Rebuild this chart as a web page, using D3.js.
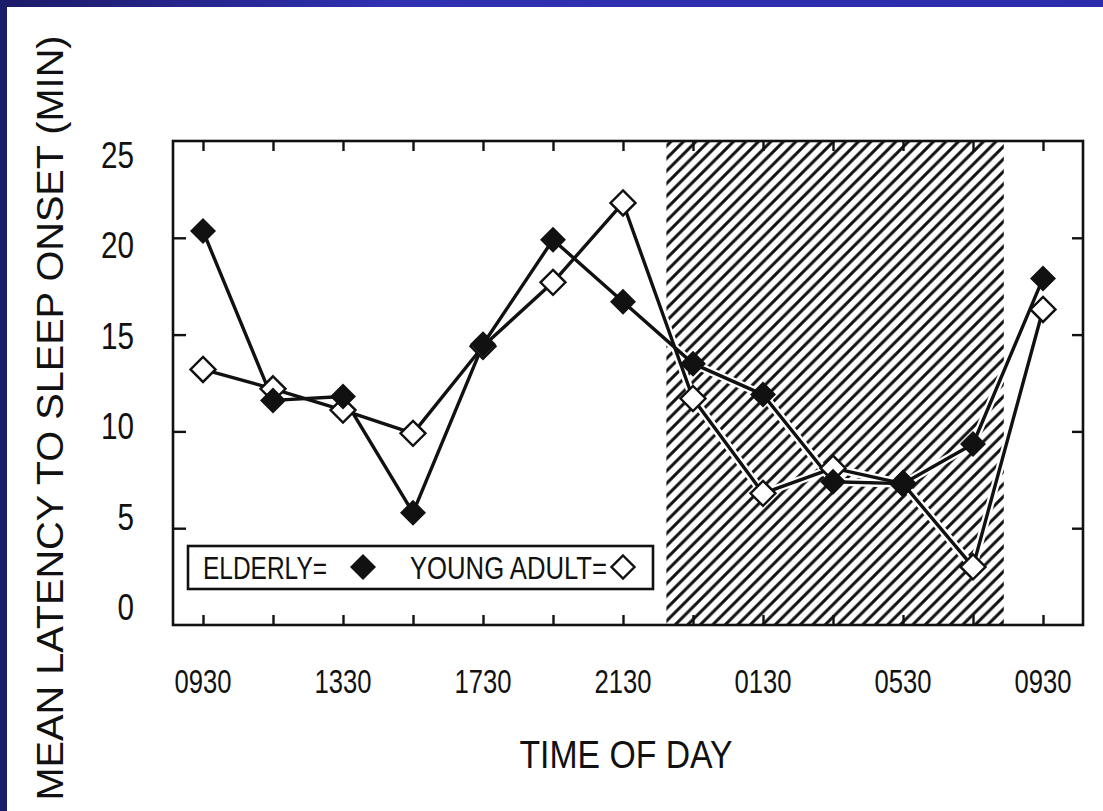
<!DOCTYPE html>
<html><head><meta charset="utf-8">
<script src="https://cdn.jsdelivr.net/npm/d3@7"></script>
<style>
html,body{margin:0;padding:0;background:#fff;}
svg{display:block;}
text{font-family:"Liberation Sans Narrow","Arial Narrow","Liberation Sans",Arial,sans-serif;fill:#111;}
</style></head>
<body>
<svg id="chart" width="1103" height="811"></svg>
<script>
// ---- data ----
const timeLabels = ["0930","1130","1330","1530","1730","1930","2130","2330","0130","0330","0530","0730","0930"];
const shownTickLabels = ["0930","1330","1730","2130","0130","0530","0930"];
const elderly = [20.35, 11.6, 11.8, 5.8, 14.5, 19.9, 16.7, 13.5, 11.9, 7.4, 7.3, 9.35, 17.9];
const youngAdult = [13.2, 12.2, 11.1, 9.9, 14.4, 17.7, 21.8, 11.7, 6.8, 8.1, 7.3, 3.0, 16.3];
const yTicks = [0, 5, 10, 15, 20, 25];
const nightShade = [6.62, 11.44]; // in time-slot index units
const seriesNames = ["ELDERLY=", "YOUNG ADULT="];

// ---- layout ----
const W = 1103, H = 811;
const frame = {left:173, right:1083, top:141, bottom:625};
const svg = d3.select("#chart");

const x = d3.scaleLinear().domain([0, timeLabels.length - 1]).range([203, 1043]);
const y = d3.scaleLinear().domain([0, 25]).range([frame.bottom, frame.top]);
// label positions in the scanned figure are slightly compressed
const yLab = d3.scaleLinear().domain([0, 25]).range([607, 155]);

// background
svg.append("rect").attr("width", W).attr("height", H).attr("fill", "#fff");

// blue slide border
const defs = svg.append("defs");
const grad = defs.append("linearGradient").attr("id","topbar").attr("x1","0").attr("x2","1").attr("y1","0").attr("y2","0");
grad.append("stop").attr("offset","0").attr("stop-color","#1b1b68");
grad.append("stop").attr("offset","0.35").attr("stop-color","#3030b2");
grad.append("stop").attr("offset","1").attr("stop-color","#2b2bab");
svg.append("rect").attr("x",0).attr("y",0).attr("width",W).attr("height",7).attr("fill","url(#topbar)");
svg.append("rect").attr("x",0).attr("y",0).attr("width",7).attr("height",H).attr("fill","#1c1c6c");

// hatch pattern
const P = 12.5;
const pat = defs.append("pattern").attr("id","hatch").attr("patternUnits","userSpaceOnUse")
  .attr("width",P).attr("height",P);
pat.append("path").attr("d",`M-3,3 L3,-3 M0,${P} L${P},0 M${P-3},${P+3} L${P+3},${P-3}`)
  .attr("stroke","#111").attr("stroke-width",3).attr("stroke-linecap","square");

svg.append("rect")
  .attr("x", x(nightShade[0])).attr("y", frame.top)
  .attr("width", x(nightShade[1]) - x(nightShade[0]))
  .attr("height", frame.bottom - frame.top)
  .attr("fill", "url(#hatch)");

// frame
svg.append("rect").attr("x",frame.left).attr("y",frame.top)
  .attr("width",frame.right-frame.left).attr("height",frame.bottom-frame.top)
  .attr("fill","none").attr("stroke","#111").attr("stroke-width",2.6);

// ticks (inward)
const idx = d3.range(timeLabels.length);
const xAxisB = d3.axisBottom(x).tickValues(idx).tickSize(-10).tickFormat("");
const xAxisT = d3.axisTop(x).tickValues(idx).tickSize(-10).tickFormat("");
const yAxisL = d3.axisLeft(y).tickValues([5,10,15,20]).tickSize(-13).tickFormat("");
const yAxisR = d3.axisRight(y).tickValues([5,10,15,20]).tickSize(-11).tickFormat("");
function styleAxis(g){ g.select(".domain").remove(); g.selectAll("line").attr("stroke","#111").attr("stroke-width",2.4); }
svg.append("g").attr("transform",`translate(0,${frame.bottom})`).call(xAxisB).call(styleAxis);
svg.append("g").attr("transform",`translate(0,${frame.top})`).call(xAxisT).call(styleAxis);
svg.append("g").attr("transform",`translate(${frame.left},0)`).call(yAxisL).call(styleAxis);
svg.append("g").attr("transform",`translate(${frame.right},0)`).call(yAxisR).call(styleAxis);

// y tick labels
svg.append("g").selectAll("text").data(yTicks).join("text")
  .attr("x", 134).attr("y", d => yLab(d)).attr("dy","0.36em")
  .attr("text-anchor","end").attr("font-size",36)
  .attr("textLength", d => String(d).length * 16.5).attr("lengthAdjust","spacingAndGlyphs")
  .text(d => d);

// x tick labels
svg.append("g").selectAll("text").data(idx.filter(i => i % 2 === 0)).join("text")
  .attr("x", d => x(d)).attr("y", 693).attr("text-anchor","middle")
  .attr("font-size",33).attr("textLength",57).attr("lengthAdjust","spacingAndGlyphs")
  .text((d,i) => shownTickLabels[i]);

// axis titles
svg.append("text").attr("x",626).attr("y",768).attr("text-anchor","middle")
  .attr("font-size",38).attr("textLength",213).attr("lengthAdjust","spacingAndGlyphs").text("TIME OF DAY");
svg.append("text").attr("transform","translate(63,418) rotate(-90)").attr("text-anchor","middle")
  .attr("font-size",37).attr("textLength",765).attr("lengthAdjust","spacingAndGlyphs")
  .text("MEAN LATENCY TO SLEEP ONSET (MIN)");

// series
const line = d3.line().x((d,i) => x(i)).y(d => y(d));
const diamond = (cx, cy, r) => `M${cx},${cy-r}L${cx+r},${cy}L${cx},${cy+r}L${cx-r},${cy}Z`;

[youngAdult, elderly].forEach(s => {
  svg.append("path").datum(s).attr("d", line).attr("fill","none")
    .attr("stroke","#fff").attr("stroke-width",8).attr("stroke-linejoin","round");
});
[youngAdult, elderly].forEach(s => {
  svg.append("path").datum(s).attr("d", line).attr("fill","none")
    .attr("stroke","#111").attr("stroke-width",3.4).attr("stroke-linejoin","round");
});
svg.append("g").selectAll("path").data(youngAdult).join("path")
  .attr("d", (d,i) => diamond(x(i), y(d), 12.5))
  .attr("fill","#fff").attr("stroke","#111").attr("stroke-width",2.4);
svg.append("g").selectAll("path").data(elderly).join("path")
  .attr("d", (d,i) => diamond(x(i), y(d), 13))
  .attr("fill","#111");

// legend
svg.append("rect").attr("x",188).attr("y",546).attr("width",465).attr("height",43)
  .attr("fill","#fff").attr("stroke","#111").attr("stroke-width",2.6);
svg.append("text").attr("x",203).attr("y",579).attr("font-size",31)
  .attr("textLength",124).attr("lengthAdjust","spacingAndGlyphs").text(seriesNames[0]);
svg.append("path").attr("d", diamond(363, 567, 13)).attr("fill","#111");
svg.append("text").attr("x",410).attr("y",579).attr("font-size",31)
  .attr("textLength",197).attr("lengthAdjust","spacingAndGlyphs").text(seriesNames[1]);
svg.append("path").attr("d", diamond(623, 567, 11.5)).attr("fill","#fff").attr("stroke","#111").attr("stroke-width",2.4);
</script>
</body></html>
